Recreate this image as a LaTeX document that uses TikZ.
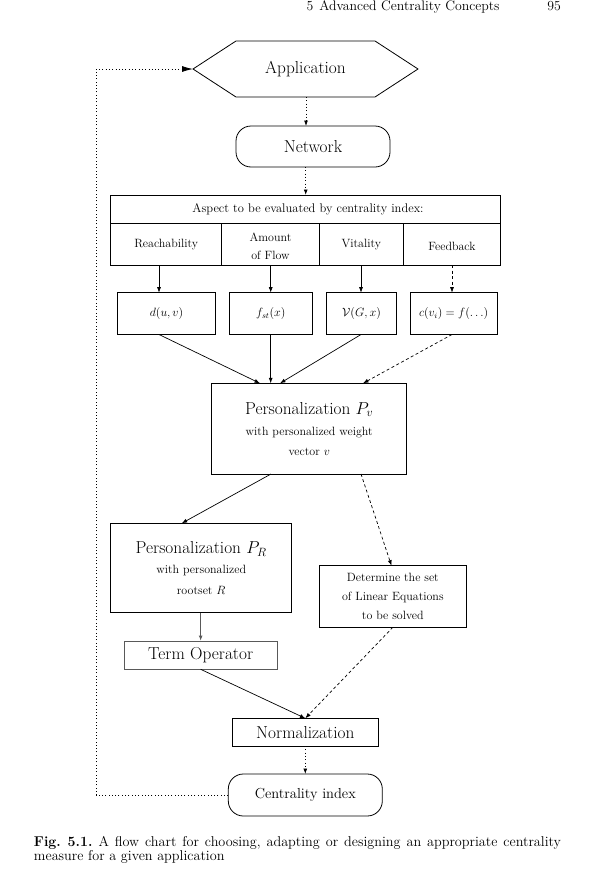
\documentclass[tikz,border=0pt]{standalone}
\usetikzlibrary{arrows.meta}
\newcommand\fbig{\fontsize{17.3}{20}\selectfont}
\newcommand\fsm{\fontsize{12}{18}\selectfont}
\newcommand\fmid{\fontsize{14.5}{17}\selectfont}
\newcommand\fcap{\fontsize{13.8}{16}\selectfont}
\newcommand\fcapt{\fontsize{14.2}{16}\selectfont}
\begin{document}
\begin{tikzpicture}[x=1pt,y=-1pt,
  every node/.style={inner sep=0pt, outer sep=0pt},
  rbox/.style={draw, line width=0.8pt, anchor=north west, align=center},
  rrbox/.style={rbox, rounded corners=15pt},
  tip/.style={-{Latex[length=5.5pt,width=4pt]}},
  arr/.style={tip, line width=0.7pt},
  darr/.style={tip, line width=0.7pt, dash pattern=on 3pt off 2.5pt},
  oarr/.style={tip, line width=0.8pt, dash pattern=on 1pt off 2.3pt},
  bigarr/.style={-{Latex[length=11pt,width=6pt]}, line width=0.8pt, dash pattern=on 1pt off 2.3pt},
]
\useasboundingbox (0,0) rectangle (609,881);

% running head
\node[anchor=base west, font=\fcap] (head) at (306.5,10.5) {5\hspace{6pt}Advanced Centrality Concepts};
\node[anchor=base east, font=\fcap] (page) at (561,10.5) {95};

% Application hexagon
\draw[line width=0.8pt] (193,69) -- (236,41) -- (375,41) -- (418,69) -- (375,97) -- (236,97) -- cycle;
\node[font=\fbig] (app) at (305.5,69.5) {Application};
\coordinate (appL) at (193,69);
\coordinate (appB) at (306,97);

% Network
\node[rrbox, minimum width=154pt, minimum height=41pt, font=\fbig] (net) at (236,126) {Network};

% Aspect box
\node[rbox, minimum width=390pt, minimum height=70pt] (aspect) at (110.7,195) {};
\draw[line width=0.8pt] (110.7,223.3) -- (500.7,223.3);
\draw[line width=0.8pt] (221.7,223.3) -- (221.7,265);
\draw[line width=0.8pt] (319.3,223.3) -- (319.3,265);
\draw[line width=0.8pt] (403.3,223.3) -- (403.3,265);
\node[font=\fontsize{12.5}{18}\selectfont] (asph) at (308,209.5) {Aspect to be evaluated by centrality index:};
\node[font=\fsm] (reach) at (166.2,245) {Reachability};
\node[font=\fontsize{12}{18}\selectfont, align=center] (flow) at (270.5,246.5) {Amount\\of Flow};
\node[font=\fsm] (vital) at (361.3,244.5) {Vitality};
\node[font=\fsm] (feed) at (452,246.5) {Feedback};

% row of measure boxes
\node[rbox, minimum width=98.4pt, minimum height=41.8pt, font=\fsm] (b1) at (117.3,292.7) {$d(u,v)$};
\node[rbox, minimum width=83pt, minimum height=41.8pt, font=\fsm] (b2) at (229.3,292.7) {$f_{st}(x)$};
\node[rbox, minimum width=70.4pt, minimum height=41.8pt, font=\fsm] (b3) at (326.3,292.7) {$\mathcal{V}(G,x)$};
\node[rbox, minimum width=87.3pt, minimum height=41.8pt, font=\fsm] (b4) at (410,292.7) {$c(v_i)=f(\ldots)$};

% Personalization Pv
\node[rbox, minimum width=195pt, minimum height=90.7pt, font=\fontsize{12}{19.5}\selectfont] (pv) at (211.7,383.3)
  {{\fbig Personalization $P_v$}\\[2pt]with personalized weight\\vector $v$};

% Personalization PR
\node[rbox, minimum width=181pt, minimum height=89.4pt, font=\fontsize{12}{20.5}\selectfont] (pr) at (110.7,523.3)
  {{\fbig Personalization $P_R$}\\with personalized\\rootset $R$};

% Determine
\node[rbox, minimum width=147.7pt, minimum height=61.6pt, font=\fontsize{12}{19}\selectfont] (det) at (319,565.7)
  {Determine the set\\of Linear Equations\\to be solved};

% Term Operator
\node[rbox, draw=black!65, minimum width=153.3pt, minimum height=28.3pt, font=\fbig] (term) at (124,641) {Term Operator};

% Normalization
\node[rbox, minimum width=146pt, minimum height=27.7pt, font=\fbig] (norm) at (232.3,718.3) {Normalization};

% Centrality index
\node[rrbox, minimum width=154pt, minimum height=42pt, font=\fmid] (cent) at (228.3,774) {Centrality index};

% coordinates for arrow columns
\coordinate (x1) at (159,0);
\coordinate (x2) at (270.7,0);
\coordinate (x3) at (361,0);
\coordinate (x4) at (452,0);
\coordinate (p1) at (260,0);
\coordinate (p2) at (270.7,0);
\coordinate (p3) at (280,0);
\coordinate (p4) at (363,0);
\coordinate (q1) at (271,0);
\coordinate (q2) at (361,0);
\coordinate (r1) at (181.7,0);
\coordinate (r2) at (391.5,0);

% connectors
\draw[oarr] (appB) -- (net.north -| appB);
\draw[oarr] (net.south -| aspect.north) -- (aspect.north);
\draw[arr] (aspect.south -| x1) -- (b1.north -| x1);
\draw[arr] (aspect.south -| x2) -- (b2.north -| x2);
\draw[arr] (aspect.south -| x3) -- (b3.north -| x3);
\draw[darr] (aspect.south -| x4) -- (b4.north -| x4);
\draw[arr] (b1.south -| x1) -- (pv.north -| p1);
\draw[arr] (b2.south -| x2) -- (pv.north -| p2);
\draw[arr] (b3.south -| x3) -- (pv.north -| p3);
\draw[darr] (b4.south -| x4) -- (pv.north -| p4);
\draw[arr] (pv.south -| q1) -- (pr.north -| r1);
\draw[darr] (pv.south -| q2) -- (det.north -| r2);
\draw[arr, draw=black!65, line width=1.1pt] (pr.south -| term.north) -- (term.north);
\draw[arr] (term.south) -- (norm.north);
\draw[darr] (det.south) -- (norm.north);
\draw[oarr] (norm.south) -- (cent.north);
\coordinate (fbB) at (96,795);
\coordinate (fbT) at (96,69);
\draw[bigarr] (cent.west) -- (fbB) -- (fbT) -- (appL);

% caption
\node[anchor=base west, font=\fcapt] (cap1) at (34,846)
  {\hbox to 527pt{\frenchspacing\textbf{Fig. 5.1.} A flow chart for choosing, adapting or designing an appropriate centrality}};
\node[anchor=base west, font=\fcapt] (cap2) at (34,860) {measure for a given application};
\end{tikzpicture}
\end{document}
